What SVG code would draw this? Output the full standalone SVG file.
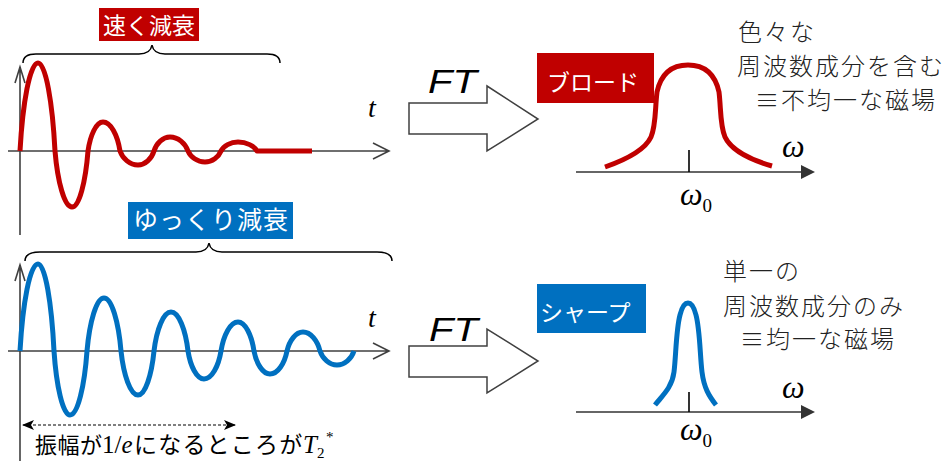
<svg xmlns="http://www.w3.org/2000/svg" width="948" height="461" viewBox="0 0 948 461">
<defs>
<style>
.ax{stroke:#404040;stroke-width:1.6;fill:none}
.ax2{stroke:#333;stroke-width:1.6;fill:none}
.wave{fill:none;stroke-width:5;stroke-linejoin:round}
.red{stroke:#C00000}
.blue{stroke:#0070C0}
.brace{fill:none;stroke:#000;stroke-width:1.5}
.lbl{font-family:"Noto Sans CJK JP",sans-serif;fill:#fff}
.jp{font-family:"Noto Sans CJK JP",sans-serif;font-weight:300;fill:#222;font-size:24px;letter-spacing:2px}
.sans{font-family:"Noto Sans CJK JP",sans-serif;fill:#000}
.serif{font-family:"Liberation Serif",serif;fill:#000}
.math{font-family:"Liberation Serif",serif;font-style:italic;fill:#000}
.ft{font-family:"Liberation Sans",Arial,sans-serif;font-style:italic;font-size:33px;fill:#000}
.bigarrow{fill:#fff;stroke:#404040;stroke-width:1.5;stroke-linejoin:miter}
</style>
<marker id="stealth" viewBox="0 0 12 10" refX="11" refY="5" markerWidth="12" markerHeight="10" markerUnits="userSpaceOnUse" orient="auto-start-reverse">
<path d="M0,0 L12,5 L0,10 L3,5 Z" fill="#000"/>
</marker>
</defs>
<rect width="948" height="461" fill="#fff"/>

<g id="top-plot">
<path class="ax" d="M20,235 V67 M15,83 L20,67 L25,83"/>
<path class="ax" d="M8,151 H389 M373,143 L389,151 L373,159"/>
<text class="math" x="368" y="117" font-size="28">t</text>
<path class="wave red" d="M20,151 C22.7,102.6 29.9,63 38,63 C45.7,63 52.5,102.6 55,151 C57.6,181.8 64.4,207 72,207 C79.2,207 85.6,181.8 88,151 C90.3,135 96.3,122 103,122 C110.7,122 117.5,135 120,151 C122.7,158.7 129.9,165 138,165 C145.2,165 151.6,158.7 154,151 C156.4,143.3 162.8,137 170,137 C178.1,137 185.3,143.3 188,151 C190.6,157 197.4,162 205,162 C212.2,162 218.6,157 221,151 C223.6,146 230.4,142 238,142 C246.6,142 254.2,146 257,151 L312,151"/>
<path class="brace" d="M23,63 C23,56 28,54 36,54 L139,54 C147,54 151,51 152,45 C153,51 157,54 165,54 L267,54 C275,54 280,56 280,63"/>
</g>

<g id="label-fast">
<rect x="99" y="8" width="100" height="33" fill="#C00000"/>
<text class="lbl" x="149" y="34" font-size="23" text-anchor="middle">速く減衰</text>
</g>

<g id="bottom-plot">
<path class="ax" d="M20,461 V265 M15,281 L20,265 L25,281"/>
<path class="ax" d="M8,351 H389 M373,343 L389,351 L373,359"/>
<text class="math" x="368" y="327" font-size="28">t</text>
<path class="wave blue" d="M20,351 C22.7,303.1 29.9,264 38,264 C45.2,264 51.6,303.1 54,351 C56.4,386.2 62.8,415 70,415 C77.7,415 84.5,386.2 87,351 C89.6,321.8 96.4,298 104,298 C111.7,298 118.5,321.8 121,351 C123.6,375.2 130.4,395 138,395 C145.2,395 151.6,375.2 154,351 C156.6,329.5 163.4,312 171,312 C178.7,312 185.5,329.5 188,351 C190.4,366.4 196.8,379 204,379 C211.7,379 218.5,366.4 221,351 C223.6,335 230.4,322 238,322 C245.2,322 251.6,335 254,351 C256.4,363.7 262.8,374 270,374 C277.7,374 284.5,363.7 287,351 C289.4,340.5 295.8,332 303,332 C310.7,332 317.5,340.5 320,351 C322.6,358.7 329.4,365 337,365 C344.7,365 351.5,358.7 354,351"/>
<path class="brace" d="M25,261 C25,255 30,252 40,252 L196,252 C204,252 208,249 209,243 C210,249 214,252 222,252 L377,252 C386,252 392,255 392,261"/>
<text class="sans" x="35" y="453" font-size="22" letter-spacing="0.5">振幅が</text>
<text class="serif" x="102" y="453" font-size="25">1/<tspan class="math">e</tspan></text>
<text class="sans" x="134" y="453" font-size="23" letter-spacing="1.2">になるところが</text>
<text class="math" x="303" y="453" font-size="25">T</text>
<text class="serif" x="317" y="458" font-size="15">2</text>
<text class="serif" x="326" y="442" font-size="15">*</text>
</g>

<g id="label-slow">
<rect x="128" y="202" width="165" height="37" fill="#0070C0"/>
<text class="lbl" x="211" y="229" font-size="25" letter-spacing="1" text-anchor="middle">ゆっくり減衰</text>
</g>

<g id="ft-top">
<text class="ft" x="428" y="93" textLength="49" lengthAdjust="spacingAndGlyphs">FT</text>
<path class="bigarrow" d="M409,103 H487 V86 L538,119 L487,151 V134 H409 Z"/>
</g>

<g id="ft-bottom">
<text class="ft" x="429" y="341" textLength="49" lengthAdjust="spacingAndGlyphs">FT</text>
<path class="bigarrow" d="M409,346 H487 V329 L538,361 L487,393 V377 H409 Z"/>
</g>

<g id="broad-spectrum">
<path class="ax2" d="M576,172 H803"/>
<path d="M801,165 L815,172 L801,179 Z" fill="#333"/>
<path d="M689,150 V172" stroke="#000" stroke-width="1.6"/>
<path class="wave red" d="M605,167 C625,160 645,150 651,137 C656,126 655,108 657,92 C661,74 672,65 688,65 C704,65 715,74 719,92 C721,108 720,126 725,137 C731,150 751,160 772,166"/>
<text class="math" x="782" y="157" font-size="32">ω</text>
<text class="math" x="680" y="205" font-size="32">ω<tspan font-style="normal" font-size="19" dy="7">0</tspan></text>
</g>

<g id="label-broad">
<rect x="537" y="53" width="117" height="50" fill="#C00000"/>
<text class="lbl" x="547" y="91" font-size="23">ブロード</text>
</g>

<g id="text-broad">
<text class="jp" x="738" y="41">色々な</text>
<text class="jp" x="737" y="75">周波数成分を含む</text>
<text class="jp" x="755" y="109">≡不均一な磁場</text>
</g>

<g id="sharp-spectrum">
<path class="ax2" d="M576,412 H803"/>
<path d="M801,405 L815,412 L801,419 Z" fill="#333"/>
<path d="M689,392 V412" stroke="#000" stroke-width="1.6"/>
<path class="wave blue" d="M655,405 C662,396 672,388 674,372 C676,356 676,330 680,315 C682,307 685,303 688,303 C691,303 694,307 696,315 C700,330 700,356 702,372 C704,388 709,396 716,405"/>
<text class="math" x="782" y="398" font-size="32">ω</text>
<text class="math" x="680" y="440" font-size="32">ω<tspan font-style="normal" font-size="19" dy="7">0</tspan></text>
</g>

<g id="label-sharp">
<rect x="537" y="284" width="109" height="49" fill="#0070C0"/>
<text class="lbl" x="540" y="321" font-size="23">シャープ</text>
</g>

<g id="text-sharp">
<text class="jp" x="723" y="280">単一の</text>
<text class="jp" x="723" y="315">周波数成分のみ</text>
<text class="jp" x="740" y="348">≡均一な磁場</text>
</g>

<g id="connectors">
<path d="M23,425 H235" stroke="#000" stroke-width="1.2" stroke-dasharray="3 2" fill="none" marker-start="url(#stealth)" marker-end="url(#stealth)"/>
</g>
</svg>
